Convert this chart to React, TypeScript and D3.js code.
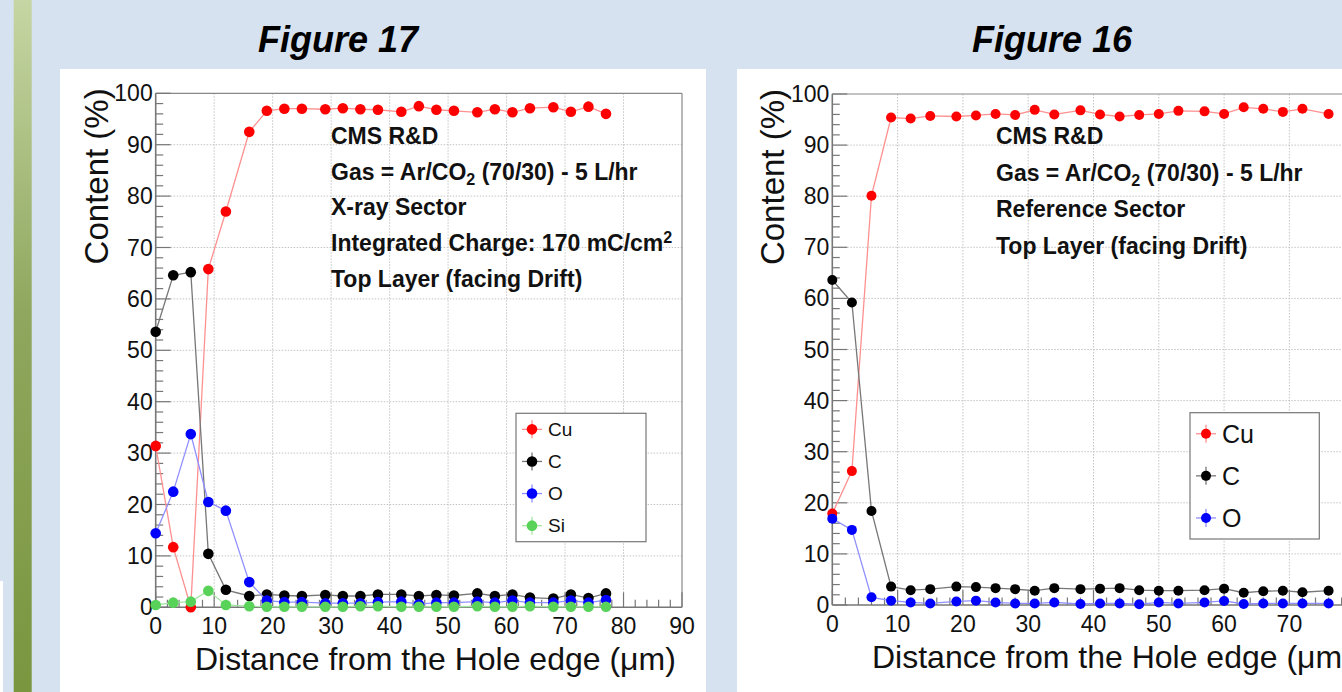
import React from 'react';
import * as d3 from 'd3';

// Figure 17 : X-ray sector (distance in um, content in %)
const fig17Distance = [0, 3, 6, 9, 12, 16, 19, 22, 25, 29, 32, 35, 38, 42, 45, 48, 51, 55, 58, 61, 64, 68, 71, 74, 77];
const fig17Cu = [31.4, 11.7, 0, 65.8, 77.0, 92.5, 96.6, 97.0, 97.0, 96.9, 97.1, 96.9, 96.8, 96.4, 97.5, 96.8, 96.6, 96.3, 96.9, 96.3, 97.1, 97.3, 96.4, 97.4, 96.0];
const fig17C = [53.6, 64.6, 65.2, 10.4, 3.4, 2.2, 2.5, 2.3, 2.2, 2.4, 2.2, 2.2, 2.5, 2.5, 2.2, 2.4, 2.3, 2.7, 2.2, 2.5, 1.9, 1.7, 2.5, 1.8, 2.7];
const fig17O = [14.4, 22.5, 33.7, 20.5, 18.8, 4.9, 1.3, 1.0, 1.0, 0.8, 0.8, 0.8, 1.0, 1.1, 0.6, 0.9, 0.9, 1.1, 0.9, 1.3, 0.9, 0.9, 1.3, 0.9, 1.4];
const fig17Si = [0.45, 0.9, 1.1, 3.2, 0.45, 0.2, 0.1, 0.1, 0.1, 0.1, 0.1, 0.2, 0.2, 0.1, 0.1, 0.1, 0.1, 0.2, 0.1, 0.1, 0.2, 0.1, 0.1, 0.1, 0.1];

// Figure 16 : reference sector
const fig16Distance = [0, 3, 6, 9, 12, 15, 19, 22, 25, 28, 31, 34, 38, 41, 44, 47, 50, 53, 57, 60, 63, 66, 69, 72, 76];
const fig16Cu = [17.9, 26.2, 80.1, 95.4, 95.2, 95.7, 95.6, 95.8, 96.1, 95.9, 96.9, 96.0, 96.8, 96.0, 95.6, 95.9, 96.1, 96.7, 96.6, 96.1, 97.4, 97.1, 96.5, 97.1, 96.1];
const fig16C = [63.6, 59.2, 18.4, 3.6, 2.9, 3.1, 3.6, 3.5, 3.3, 3.1, 2.8, 3.3, 3.1, 3.2, 3.3, 2.9, 2.8, 2.8, 2.9, 3.2, 2.4, 2.7, 2.8, 2.5, 2.8];
const fig16O = [16.9, 14.7, 1.5, 0.85, 0.5, 0.3, 0.7, 0.85, 0.5, 0.3, 0.3, 0.5, 0.2, 0.3, 0.3, 0.15, 0.5, 0.3, 0.5, 0.8, 0.2, 0.3, 0.3, 0.3, 0.3];

const xTickLabels = [0, 10, 20, 30, 40, 50, 60, 70, 80, 90];
const yTickLabels = [0, 10, 20, 30, 40, 50, 60, 70, 80, 90, 100];

const font = '"Liberation Sans", Arial, Helvetica, sans-serif';

interface Series {
  name: string;
  values: number[];
  marker: string;
  line: string;
}

interface PanelProps {
  x: number[];
  series: Series[];
  left: number;
  right: number;
  top: number;
  bottom: number;
  notes: React.ReactNode[];
  noteX: number;
  noteY: number;
  noteStep: number;
  noteSize: number;
  legend: { x: number; y: number; w: number; h: number; step: number; size: number };
  yTitleX: number;
  xTitleX: number;
  xTitleY: number;
  r: number;
}

const Panel: React.FC<PanelProps> = (p) => {
  const xScale = d3.scaleLinear().domain([0, 90]).range([p.left, p.right]);
  const yScale = d3.scaleLinear().domain([0, 100]).range([p.bottom, p.top]);
  const minorX = d3.range(0, 90.01, 2);
  const minorY = d3.range(0, 100.01, 2);
  const axisColor = '#777';

  return (
    <g>
      {/* grid */}
      {xTickLabels.slice(1, -1).map(t => (
        <line key={'gx' + t} x1={xScale(t)} x2={xScale(t)} y1={p.top} y2={p.bottom}
          stroke="#c4c4c4" strokeWidth={1} strokeDasharray="1.5,1.5" />
      ))}
      {yTickLabels.slice(1, -1).map(t => (
        <line key={'gy' + t} x1={p.left} x2={p.right} y1={yScale(t)} y2={yScale(t)}
          stroke="#c4c4c4" strokeWidth={1} strokeDasharray="1.5,1.5" />
      ))}

      {/* frame */}
      <line x1={p.left} x2={p.right} y1={p.top} y2={p.top} stroke="#888" strokeWidth={1.2} />
      <line x1={p.right} x2={p.right} y1={p.top} y2={p.bottom} stroke="#888" strokeWidth={1.2} />
      <line x1={p.left} x2={p.right} y1={p.bottom} y2={p.bottom} stroke={axisColor} strokeWidth={1.6} />
      <line x1={p.left} x2={p.left} y1={p.top} y2={p.bottom} stroke={axisColor} strokeWidth={1.6} />

      {/* ticks */}
      {minorX.map(t => {
        const major = t % 10 === 0;
        return <line key={'tx' + t} x1={xScale(t)} x2={xScale(t)} y1={p.bottom} y2={p.bottom - (major ? 15 : 7.5)}
          stroke={axisColor} strokeWidth={1.2} />;
      })}
      {minorY.map(t => {
        const major = t % 10 === 0;
        return <line key={'ty' + t} x1={p.left} x2={p.left + (major ? 15 : 7.5)} y1={yScale(t)} y2={yScale(t)}
          stroke={axisColor} strokeWidth={1.2} />;
      })}

      {/* tick labels */}
      {xTickLabels.map(t => (
        <text key={'lx' + t} x={xScale(t)} y={p.bottom + 27} textAnchor="middle"
          fontFamily={font} fontSize={23} fill="#111">{t}</text>
      ))}
      {yTickLabels.map(t => (
        <text key={'ly' + t} x={p.left - 3} y={yScale(t) + 8} textAnchor="end"
          fontFamily={font} fontSize={23} fill="#111">{t}</text>
      ))}

      {/* axis titles */}
      <text transform={`translate(${p.yTitleX},${p.top - 5}) rotate(-90)`} textAnchor="end"
        fontFamily={font} fontSize={33} fill="#111">Content (%)</text>
      <text x={p.xTitleX} y={p.xTitleY} fontFamily={font} fontSize={32} fill="#111">
        Distance from the Hole edge (μm)
      </text>

      {/* series */}
      {p.series.map(s => {
        const pts = p.x.map((d, i) => [d, s.values[i]] as [number, number]);
        const line = d3.line<[number, number]>().x(d => xScale(d[0])).y(d => yScale(d[1]));
        return (
          <g key={s.name}>
            <path d={line(pts) || ''} fill="none" stroke={s.line} strokeWidth={1.3} />
            {pts.map((d, i) => (
              <circle key={i} cx={xScale(d[0])} cy={yScale(d[1])} r={p.r} fill={s.marker} />
            ))}
          </g>
        );
      })}

      {/* annotations */}
      {p.notes.map((n, i) => (
        <text key={'n' + i} x={p.noteX} y={p.noteY + i * p.noteStep} fontFamily={font}
          fontSize={p.noteSize} fontWeight="bold" fill="#111">{n}</text>
      ))}

      {/* legend */}
      <rect x={p.legend.x} y={p.legend.y} width={p.legend.w} height={p.legend.h} fill="#fff" stroke="#777" strokeWidth={1.2} />
      {p.series.map((s, i) => {
        const cy = p.legend.y + p.legend.step * (i + 0.5);
        const cx = p.legend.x + 16;
        return (
          <g key={'lg' + s.name}>
            <line x1={cx - 10} x2={cx + 10} y1={cy} y2={cy} stroke={s.line} strokeWidth={1.3} />
            <line x1={cx} x2={cx} y1={cy - 9} y2={cy + 9} stroke={s.line} strokeWidth={1.3} />
            <circle cx={cx} cy={cy} r={p.r} fill={s.marker} />
            <text x={cx + 16} y={cy + p.legend.size * 0.36} fontFamily={font} fontSize={p.legend.size} fill="#111">{s.name}</text>
          </g>
        );
      })}
    </g>
  );
};

const gas = (
  <>Gas = Ar/CO<tspan fontSize="0.7em" dy="5">2</tspan><tspan dy="-5"> (70/30) - 5 L/hr</tspan></>
);

export default function App() {
  const fig17Series: Series[] = [
    { name: 'Cu', values: fig17Cu, marker: '#ff0000', line: '#ff9090' },
    { name: 'C', values: fig17C, marker: '#000000', line: '#777777' },
    { name: 'O', values: fig17O, marker: '#0000ff', line: '#8f8fff' },
    { name: 'Si', values: fig17Si, marker: '#58d258', line: '#a5e6a5' },
  ];
  const fig16Series: Series[] = [
    { name: 'Cu', values: fig16Cu, marker: '#ff0000', line: '#ff9090' },
    { name: 'C', values: fig16C, marker: '#000000', line: '#777777' },
    { name: 'O', values: fig16O, marker: '#0000ff', line: '#8f8fff' },
  ];

  return (
    <div style={{ position: 'fixed', left: 0, top: 0, width: 1342, height: 692, overflow: 'hidden' }}>
      <svg width={1342} height={692} style={{ display: 'block' }}>
        <defs>
          <linearGradient id="bar" x1="0" y1="0" x2="0" y2="1">
            <stop offset="0%" stopColor="#c6d6a4" />
            <stop offset="45%" stopColor="#8fa75e" />
            <stop offset="100%" stopColor="#7a963f" />
          </linearGradient>
        </defs>
        <rect x={0} y={0} width={1342} height={692} fill="#d6e2ef" />
        <rect x={13.7} y={0} width={18} height={692} fill="url(#bar)" />
        <rect x={0} y={581} width={3} height={111} fill="#fff" />

        <text x={338} y={52} textAnchor="middle" fontFamily={font} fontSize={36} fontWeight="bold" fontStyle="italic" fill="#000">Figure 17</text>
        <text x={1052} y={52} textAnchor="middle" fontFamily={font} fontSize={36} fontWeight="bold" fontStyle="italic" fill="#000">Figure 16</text>

        <rect x={60} y={69} width={646} height={623} fill="#fff" />
        <rect x={737} y={69} width={605} height={623} fill="#fff" />

        <Panel
          x={fig17Distance}
          series={fig17Series}
          left={155.7} right={682} top={93.3} bottom={607.3}
          notes={['CMS R&D', gas, 'X-ray Sector',
            <>Integrated Charge: 170 mC/cm<tspan fontSize="0.7em" dy="-8">2</tspan></>,
            'Top Layer (facing Drift)']}
          noteX={331} noteY={144} noteStep={35.7} noteSize={23}
          legend={{ x: 516, y: 413.3, w: 130, h: 128.4, step: 32.1, size: 19 }}
          yTitleX={108} xTitleX={195} xTitleY={670}
          r={5.3}
        />
        <Panel
          x={fig16Distance}
          series={fig16Series}
          left={832.3} right={1420} top={94} bottom={605}
          notes={['CMS R&D', gas, 'Reference Sector', 'Top Layer (facing Drift)']}
          noteX={996} noteY={144} noteStep={36.5} noteSize={23}
          legend={{ x: 1190, y: 412.7, w: 129.3, h: 126.3, step: 42.1, size: 25 }}
          yTitleX={784} xTitleX={872} xTitleY={668}
          r={5}
        />
      </svg>
    </div>
  );
}
